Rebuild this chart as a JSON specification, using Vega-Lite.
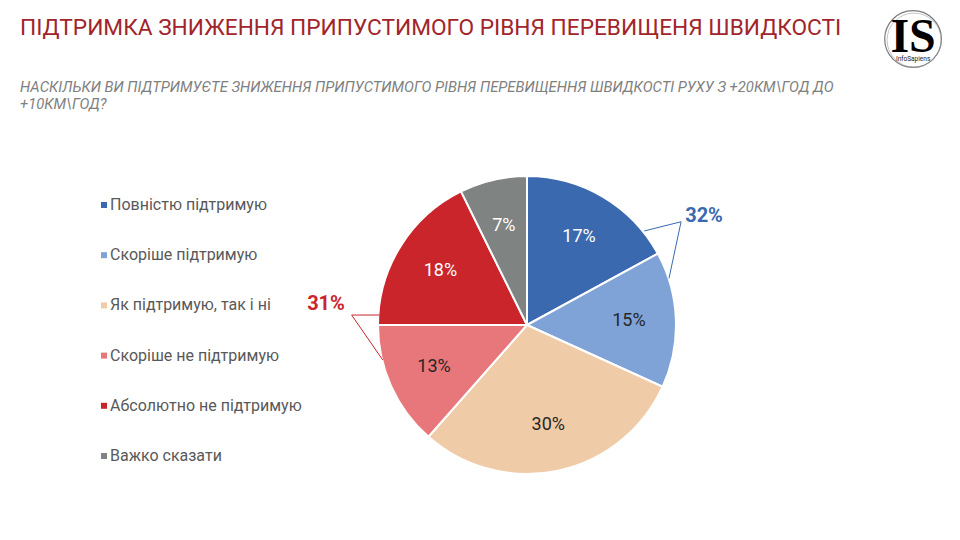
{
  "$schema": "https://vega.github.io/schema/vega-lite/v6.json",
  "width": 866,
  "height": 430,
  "autosize": {"type": "none"},
  "padding": {"left": 94, "top": 110, "right": 0, "bottom": 0},
  "background": "white",
  "config": {"view": {"stroke": null}},
  "title": {
    "text": "ПІДТРИМКА ЗНИЖЕННЯ ПРИПУСТИМОГО РІВНЯ ПЕРЕВИЩЕНЯ ШВИДКОСТІ",
    "subtitle": ["НАСКІЛЬКИ ВИ ПІДТРИМУЄТЕ ЗНИЖЕННЯ ПРИПУСТИМОГО РІВНЯ ПЕРЕВИЩЕННЯ ШВИДКОСТІ РУХУ З +20КМ\\ГОД ДО", "+10КМ\\ГОД?"],
    "anchor": "start",
    "frame": "group",
    "dx": -74,
    "offset": -103.5,
    "font": "Roboto",
    "fontSize": 22.7,
    "fontWeight": "normal",
    "color": "#A1252B",
    "subtitleFont": "Roboto",
    "subtitleFontSize": 14.8,
    "subtitleFontStyle": "italic",
    "subtitleColor": "#7F7F7F",
    "subtitleLineHeight": 17,
    "subtitlePadding": 40
  },
  "datasets": {
    "answers": [
      {"idx": 1, "answer": "Повністю підтримую", "value": 17.05, "label": "17%"},
      {"idx": 2, "answer": "Скоріше підтримую", "value": 14.75, "label": "15%"},
      {"idx": 3, "answer": "Як підтримую, так і ні", "value": 29.7, "label": "30%"},
      {"idx": 4, "answer": "Скоріше не підтримую", "value": 13.5, "label": "13%"},
      {"idx": 5, "answer": "Абсолютно не підтримую", "value": 17.7, "label": "18%"},
      {"idx": 6, "answer": "Важко сказати", "value": 7.3, "label": "7%"}
    ],
    "leaders": [
      {"grp": "32%", "seq": 1, "x": 0.787, "y": 0.631},
      {"grp": "32%", "seq": 2, "x": 1.034, "y": 0.693},
      {"grp": "32%", "seq": 3, "x": 0.953, "y": 0.313},
      {"grp": "31%", "seq": 1, "x": -0.991, "y": 0.067},
      {"grp": "31%", "seq": 2, "x": -1.177, "y": 0.067},
      {"grp": "31%", "seq": 3, "x": -0.968, "y": -0.235}
    ]
  },
  "layer": [
    {
      "data": {"name": "answers"},
      "mark": {"type": "arc", "outerRadius": 149, "stroke": "white", "strokeWidth": 2},
      "encoding": {
        "theta": {"field": "value", "type": "quantitative", "stack": true},
        "order": {"field": "idx", "type": "quantitative"},
        "color": {
          "field": "answer",
          "type": "nominal",
          "sort": null,
          "scale": {
            "domain": ["Повністю підтримую", "Скоріше підтримую", "Як підтримую, так і ні", "Скоріше не підтримую", "Абсолютно не підтримую", "Важко сказати"],
            "range": ["#3A69B0", "#7FA3D6", "#F0CBA8", "#E8777B", "#C9252B", "#7F8382"]
          },
          "legend": {
            "orient": "none",
            "legendX": 2,
            "legendY": 87,
            "title": null,
            "padding": 0,
            "direction": "vertical",
            "symbolType": "square",
            "symbolSize": 36,
            "symbolStrokeWidth": 0,
            "labelFont": "Roboto",
            "labelFontSize": 16,
            "labelColor": "#595959",
            "labelOffset": -2,
            "labelLimit": 400,
            "rowPadding": 34.2
          }
        }
      }
    },
    {
      "data": {"name": "answers"},
      "mark": {"type": "text", "radius": 102, "font": "Roboto", "fontSize": 18},
      "encoding": {
        "theta": {"field": "value", "type": "quantitative", "stack": true},
        "order": {"field": "idx", "type": "quantitative"},
        "text": {"field": "label", "type": "nominal"},
        "color": {
          "condition": {"test": "datum.answer === 'Повністю підтримую' || datum.answer === 'Абсолютно не підтримую' || datum.answer === 'Важко сказати'", "value": "#FFFFFF"},
          "value": "#262626"
        }
      }
    },
    {
      "data": {"name": "leaders"},
      "mark": {"type": "line", "strokeWidth": 1},
      "encoding": {
        "x": {"field": "x", "type": "quantitative", "scale": {"domain": [-2.906, 2.906], "nice": false, "zero": false}, "axis": null},
        "y": {"field": "y", "type": "quantitative", "scale": {"domain": [-1.443, 1.443], "nice": false, "zero": false}, "axis": null},
        "detail": {"field": "grp"},
        "order": {"field": "seq", "type": "quantitative"},
        "stroke": {"field": "grp", "type": "nominal", "scale": {"domain": ["32%", "31%"], "range": ["#3A69B0", "#C9252B"]}, "legend": null}
      }
    },
    {
      "data": {"values": [{"label": "32%"}]},
      "mark": {"type": "text", "font": "Roboto", "fontSize": 20, "fontWeight": "bold", "color": "#3A69B0", "align": "center", "baseline": "middle"},
      "encoding": {
        "x": {"datum": 1.188, "type": "quantitative"},
        "y": {"datum": 0.732, "type": "quantitative"},
        "text": {"field": "label"}
      }
    },
    {
      "data": {"values": [{"label": "31%"}]},
      "mark": {"type": "text", "font": "Roboto", "fontSize": 20, "fontWeight": "bold", "color": "#C9252B", "align": "center", "baseline": "middle"},
      "encoding": {
        "x": {"datum": -1.349, "type": "quantitative"},
        "y": {"datum": 0.141, "type": "quantitative"},
        "text": {"field": "label"}
      }
    },
    {
      "data": {"values": [{"brand": "InfoSapiens"}]},
      "mark": {"type": "point", "shape": "circle", "size": 3217, "filled": false, "stroke": "#444444", "strokeWidth": 1.2},
      "encoding": {
        "x": {"datum": 2.591, "type": "quantitative"},
        "y": {"datum": 1.919, "type": "quantitative"}
      }
    },
    {
      "data": {"values": [{"brand": "InfoSapiens"}]},
      "mark": {"type": "point", "shape": "circle", "size": 2922, "filled": false, "stroke": "#999999", "strokeWidth": 0.8},
      "encoding": {
        "x": {"datum": 2.598, "type": "quantitative"},
        "y": {"datum": 1.912, "type": "quantitative"}
      }
    },
    {
      "data": {"values": [{"mark": "IS"}]},
      "mark": {"type": "text", "font": "Liberation Serif", "fontSize": 48, "fontWeight": "bold", "color": "#000000", "align": "center", "baseline": "alphabetic"},
      "encoding": {
        "x": {"datum": 2.591, "type": "quantitative"},
        "y": {"datum": 1.829, "type": "quantitative"},
        "text": {"field": "mark"}
      }
    },
    {
      "data": {"values": [{"brand": "InfoSapiens"}]},
      "mark": {"type": "text", "font": "Roboto", "fontSize": 6.5, "color": "#222222", "align": "center", "baseline": "alphabetic"},
      "encoding": {
        "x": {"datum": 2.591, "type": "quantitative"},
        "y": {"datum": 1.772, "type": "quantitative"},
        "text": {"field": "brand"}
      }
    }
  ]
}
